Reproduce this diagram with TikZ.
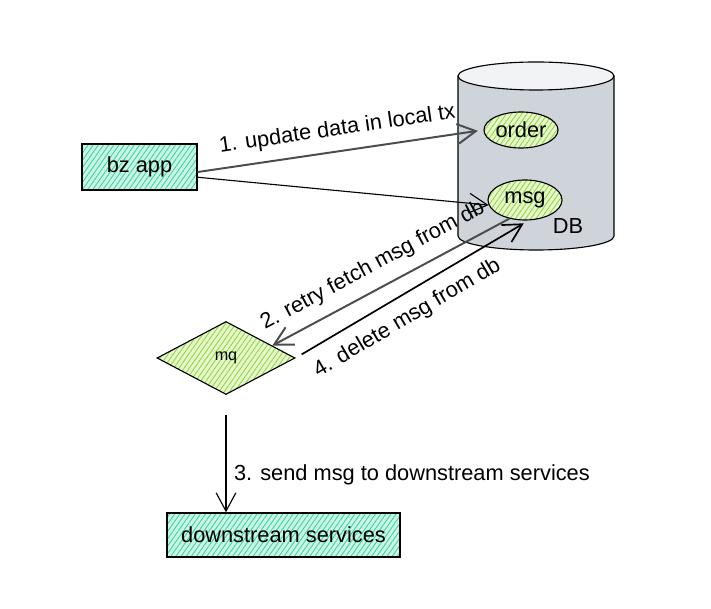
\documentclass[tikz,border=0pt]{standalone}
\usepackage{fontspec}
\setmainfont{Liberation Sans}
\usepackage{xcolor}
\usetikzlibrary{arrows.meta, patterns.meta, shapes.geometric, positioning}

\definecolor{tealfill}{HTML}{C9F5E6}
\definecolor{tealline}{HTML}{3DCFA3}
\definecolor{greenfill}{HTML}{E6F8C6}
\definecolor{greenline}{HTML}{8FD14F}
\definecolor{dbbody}{HTML}{CED4DA}
\definecolor{dbtop}{HTML}{F1F3F5}

\begin{document}
\begin{tikzpicture}[>={Straight Barb[length=13pt, width=14pt]}, x=0.025cm, y=-0.025cm,
    line width=0.8pt, font=\fontsize{15.5}{18}\selectfont,
    tealbox/.style={draw, line width=1pt, inner sep=0pt, preaction={fill=tealfill},
        pattern={Lines[angle=55, distance=3pt, line width=0.6pt]}, pattern color=tealline},
    greenhatch/.style={preaction={fill=greenfill},
        pattern={Lines[angle=55, distance=3pt, line width=0.6pt]}, pattern color=greenline},
    oval/.style={ellipse, draw, greenhatch, inner sep=0pt}]

    \useasboundingbox (0,0) rectangle (711,609);

    % =================================================================
    % PART 1: THE APP AND THE DATABASE
    % =================================================================
    \node[tealbox, minimum width=2.875cm, minimum height=1.15cm] (bzapp) at (139.5,167) {bz app};

    % Cylinder of the database (body, then the top lid)
    \draw[fill=dbbody] (458,76) -- (458,236)
        arc[start angle=180, end angle=360, x radius=1.95cm, y radius=0.35cm] -- (614,76);
    \draw[fill=dbtop] (536,76) ellipse[x radius=1.95cm, y radius=0.35cm];

    % Tables inside the database
    \node[oval, minimum width=1.85cm, minimum height=0.9cm] (order) at (521,130) {order};
    \node[oval, minimum width=1.85cm, minimum height=1cm] (msg) at (525,200) {msg};
    \node (db) at (568,226) {DB};

    % =================================================================
    % PART 2: THE QUEUE AND THE DOWNSTREAM SERVICES
    % =================================================================
    \node[diamond, draw, greenhatch, aspect=1.9, inner sep=0pt,
        minimum width=3.45cm, minimum height=1.825cm,
        font=\fontsize{11.5}{13}\selectfont] (mq) at (226,358) {mq};
    \node[tealbox, minimum width=5.825cm, minimum height=1.1cm] (downstream) at (283.5,535) {downstream services};

    % =================================================================
    % PART 3: THE STEPS
    % =================================================================
    \draw[->, gray!60!black, line width=1.4pt, shorten >=4pt] (bzapp.-5) -- (order.west)
        node[midway, sloped, above=4pt, text=black] {1. update data in local tx};
    \draw[->] (bzapp.-10) -- (msg.188);

    \draw[<-, gray!60!black, line width=1.4pt] (mq.15) -- (msg.230)
        node[pos=0.47, sloped, above=5pt, text=black] {2. retry fetch msg from db};

    \draw[->, shorten <=14pt] (mq.south) -- (mq.south |- downstream.north)
        node[pos=0.68, right=2pt] {3. send msg to downstream services};

    \draw[->, line width=1.2pt, shorten <=5pt, shorten >=4pt] (mq.east) -- (msg.-80)
        node[pos=0.43, sloped, below=5pt] {4. delete msg from db};

\end{tikzpicture}
\end{document}
